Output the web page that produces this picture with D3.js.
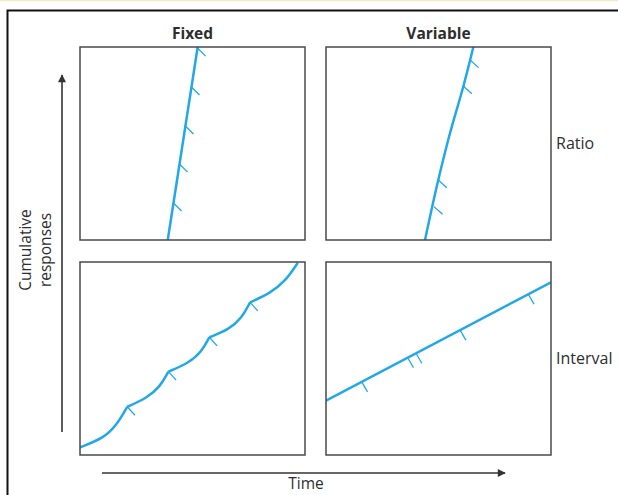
<!DOCTYPE html>
<html>
<head>
<meta charset="utf-8">
<script src="https://cdn.jsdelivr.net/npm/d3@7"></script>
<style>
  body { margin: 0; background: #fff; }
  svg { display: block; }
  text { font-family: "Open Sans", "Noto Sans", sans-serif; fill: #2e2e2e; }
</style>
</head>
<body>
<div id="chart"></div>
<script>
// column / row headers
var columns = ['Fixed', 'Variable'];
var rows = ['Ratio', 'Interval'];

// curves, as [time, cumulative responses] in panel units (0-100)
var fixedRatioLine = [[39.0, 0], [52.3, 100]];
var fixedRatioReinf = [[41.5, 19.2], [44.2, 39.4], [46.8, 59.1], [49.5, 79.3], [52.2, 99.5]];

var variableRatioLine = [[44.0, 0], [49.9, 31.1], [55.1, 55.3], [61.0, 79.4], [65.5, 100]];
var variableRatioReinf = [[48.0, 17.3], [49.9, 31.1], [61.0, 79.8], [64.0, 93.3]];

var fixedIntervalScallops = [
    [[0, 4.0], [10.4, 8.6], [16.3, 15.5], [21.0, 25.0]],
    [[21.0, 25.0], [29.6, 29.4], [35.6, 35.4], [39.3, 43.2]],
    [[39.3, 43.2], [48.1, 47.5], [54.1, 53.5], [57.5, 61.0]],
    [[57.5, 61.0], [65.9, 64.8], [71.9, 70.9], [75.6, 79.1]],
    [[75.6, 79.1], [84.4, 83.8], [91.1, 89.8], [96.8, 99.6]]
];
var fixedIntervalReinf = [[21.0, 25.0], [39.3, 43.2], [57.5, 61.0], [75.6, 79.1]];

var variableIntervalLine = [[0, 28.1], [100, 89.5]];
var variableIntervalReinf = [[15.9, 37.9], [36.3, 50.4], [40.0, 52.7], [59.6, 64.7], [89.9, 83.3]];

var width = 618, height = 495;
var blue = '#22a8e6';

var svg = d3.select('#chart').append('svg')
    .attr('width', width)
    .attr('height', height);

// page frame
svg.append('line')
    .attr('x1', 0).attr('x2', width)
    .attr('y1', 0.5).attr('y2', 0.5)
    .attr('stroke', '#f8e6c8').attr('stroke-width', 1.5);
svg.append('path')
    .attr('d', `M7.5,${height} V10.5 H${width}`)
    .attr('fill', 'none')
    .attr('stroke', '#111')
    .attr('stroke-width', 2);

var panelW = 225, panelH = 193;
var colX = [80, 326];
var rowY = [47, 262];

var panels = [
    { col: 0, row: 0, segments: [fixedRatioLine], reinf: fixedRatioReinf, angle: 45, curve: d3.curveLinear },
    { col: 1, row: 0, segments: [variableRatioLine], reinf: variableRatioReinf, angle: 42, curve: d3.curveMonotoneY },
    { col: 0, row: 1, segments: fixedIntervalScallops, reinf: fixedIntervalReinf, angle: 48, curve: d3.curveBasis },
    { col: 1, row: 1, segments: [variableIntervalLine], reinf: variableIntervalReinf, angle: 60, curve: d3.curveLinear }
];

var defs = svg.append('defs');

panels.forEach((p, i) => {
    var x0 = colX[p.col], y0 = rowY[p.row];
    var x = d3.scaleLinear().domain([0, 100]).range([x0, x0 + panelW]);
    var y = d3.scaleLinear().domain([0, 100]).range([y0 + panelH, y0]);

    defs.append('clipPath')
        .attr('id', 'clip' + i)
        .append('rect')
        .attr('x', x0).attr('y', y0)
        .attr('width', panelW).attr('height', panelH);

    var g = svg.append('g').attr('clip-path', `url(#clip${i})`);

    var line = d3.line()
        .x(d => x(d[0]))
        .y(d => y(d[1]))
        .curve(p.curve);

    g.selectAll('path.curve')
        .data(p.segments)
        .enter()
        .append('path')
        .attr('class', 'curve')
        .attr('d', line)
        .attr('fill', 'none')
        .attr('stroke', blue)
        .attr('stroke-width', 2.5)
        .attr('stroke-linejoin', 'miter');

    // reinforcement hash marks
    var len = 11.5, a = p.angle * Math.PI / 180;
    g.selectAll('line.reinf')
        .data(p.reinf)
        .enter()
        .append('line')
        .attr('class', 'reinf')
        .attr('x1', d => x(d[0]))
        .attr('y1', d => y(d[1]))
        .attr('x2', d => x(d[0]) + len * Math.cos(a))
        .attr('y2', d => y(d[1]) + len * Math.sin(a))
        .attr('stroke', blue)
        .attr('stroke-width', 1.3);

    svg.append('rect')
        .attr('x', x0).attr('y', y0)
        .attr('width', panelW).attr('height', panelH)
        .attr('fill', 'none')
        .attr('stroke', '#4a4a4a')
        .attr('stroke-width', 1.5);
});

// headers
svg.selectAll('text.colHead')
    .data(columns)
    .enter()
    .append('text')
    .attr('class', 'colHead')
    .attr('x', (d, i) => colX[i] + panelW / 2)
    .attr('y', 39)
    .attr('text-anchor', 'middle')
    .style('font-weight', 'bold')
    .style('font-size', '15.5px')
    .text(d => d);

svg.selectAll('text.rowHead')
    .data(rows)
    .enter()
    .append('text')
    .attr('class', 'rowHead')
    .attr('x', 556)
    .attr('y', (d, i) => rowY[i] + panelH / 2 + 5)
    .style('font-size', '16px')
    .text(d => d);

// axes arrows
defs.append('marker')
    .attr('id', 'arrow')
    .attr('viewBox', '0 0 10 10')
    .attr('refX', 9).attr('refY', 5)
    .attr('markerWidth', 10).attr('markerHeight', 8)
    .attr('markerUnits', 'userSpaceOnUse')
    .attr('orient', 'auto')
    .append('path')
    .attr('d', 'M0,0 L10,5 L0,10 Z')
    .attr('fill', '#333');

svg.append('line')
    .attr('x1', 62).attr('y1', 432)
    .attr('x2', 62).attr('y2', 75)
    .attr('stroke', '#333').attr('stroke-width', 1.6)
    .attr('marker-end', 'url(#arrow)');

svg.append('line')
    .attr('x1', 102).attr('y1', 473)
    .attr('x2', 505).attr('y2', 473)
    .attr('stroke', '#333').attr('stroke-width', 1.6)
    .attr('marker-end', 'url(#arrow)');

var yLab = svg.append('text')
    .attr('transform', 'translate(36,250) rotate(-90)')
    .attr('text-anchor', 'middle')
    .style('font-size', '15.5px');
yLab.append('tspan').attr('x', 0).attr('y', -5).text('Cumulative');
yLab.append('tspan').attr('x', 0).attr('y', 15).text('responses');

svg.append('text')
    .attr('x', 306)
    .attr('y', 489)
    .attr('text-anchor', 'middle')
    .style('font-size', '15.5px')
    .text('Time');
</script>
</body>
</html>
